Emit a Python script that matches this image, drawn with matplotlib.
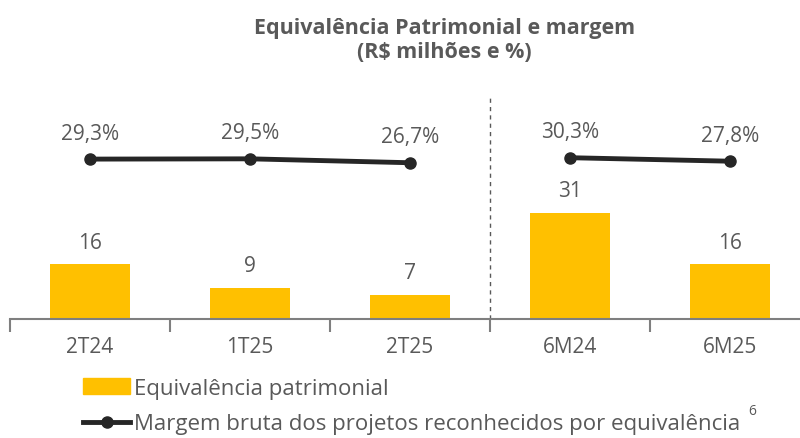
import matplotlib.pyplot as plt
from matplotlib.patches import Patch
from matplotlib.lines import Line2D

categories = ["2T24", "1T25", "2T25", "6M24", "6M25"]
equivalencia = [16, 9, 7, 31, 16]
margem_trim = [29.3, 29.5, 26.7]
margem_sem = [30.3, 27.8]

bar_color = "#FFC000"
line_color = "#262626"
text_color = "#595959"
plt.rcParams["font.family"] = ["Open Sans", "DejaVu Sans"]

fig = plt.figure(figsize=(8, 4.39), dpi=100)
ax = fig.add_axes([0.0125, 0.271, 1.0, 0.5125])
x = list(range(len(categories)))

ax.bar(x, equivalencia, width=0.5, color=bar_color, zorder=2)
for xi, v in zip(x, equivalencia):
    ax.text(xi, v + 3.5, str(v), ha="center", va="bottom", fontsize=15, color=text_color)

ax.set_xlim(-0.5, 4.5)
ax.set_ylim(0, 66)
ax.set_xticks([i - 0.5 for i in range(6)])
ax.set_xticklabels([])
ax.set_xticks(x, minor=True)
ax.set_xticklabels(categories, minor=True, fontsize=15, color=text_color)
ax.tick_params(axis="x", which="major", length=9, width=1.5, color="#7f7f7f")
ax.tick_params(axis="x", which="minor", length=0, pad=12)
ax.set_yticks([])
for s in ["top", "right", "left"]:
    ax.spines[s].set_visible(False)
ax.spines["bottom"].set_color("#7f7f7f")
ax.spines["bottom"].set_linewidth(1.5)
ax.axvline(2.5, ymin=0, ymax=1.0, color=text_color, linestyle=(0, (3, 3)), linewidth=1)

ax2 = ax.twinx()
ax2.set_ylim(-85, 75.8)
ax2.axis("off")
ax2.plot(x[:3], margem_trim, color=line_color, linewidth=3.5, marker="o", markersize=8)
ax2.plot(x[3:], margem_sem, color=line_color, linewidth=3.5, marker="o", markersize=8)
for xi, v in zip(x, margem_trim + margem_sem):
    ax2.text(xi, v + 11, f"{v:.1f}%".replace(".", ","), ha="center", va="bottom",
             fontsize=15, color=text_color)

fig.text(0.556, 0.958, "Equivalência Patrimonial e margem\n(R$ milhões e %)",
         ha="center", va="top", fontsize=15.5, fontweight="bold", color=text_color,
         linespacing=1.15)

handles = [Patch(color=bar_color),
           Line2D([0], [0], color=line_color, linewidth=3.5, marker="o", markersize=8)]
labels = ["Equivalência patrimonial",
          "Margem bruta dos projetos reconhecidos por equivalência"]
fig.legend(handles, labels, loc="upper left", bbox_to_anchor=(0.104, 0.137),
           frameon=False, fontsize=16, labelcolor=text_color, handlelength=2.1,
           handletextpad=0.2, labelspacing=0.65, borderaxespad=0, borderpad=0)
fig.text(0.935, 0.055, "6", fontsize=10, color=text_color)

fig.savefig("out.png", dpi=100)
